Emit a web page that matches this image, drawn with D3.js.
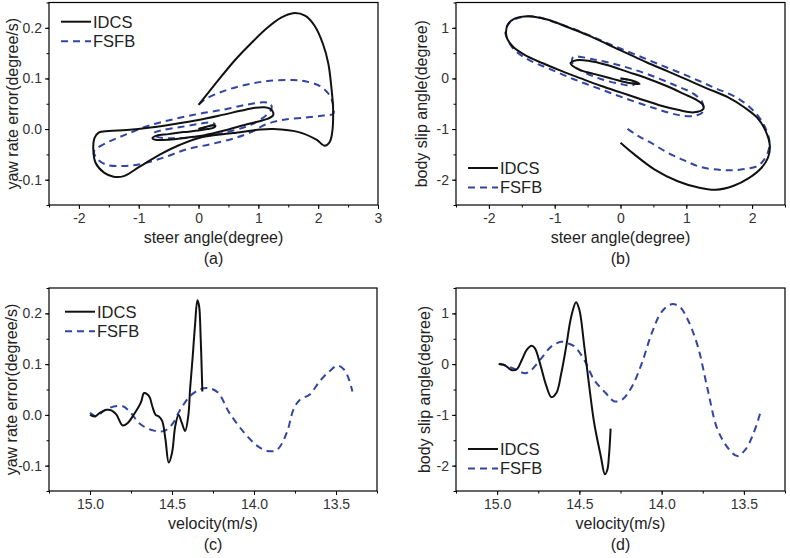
<!DOCTYPE html>
<html><head><meta charset="utf-8">
<script src="https://cdn.jsdelivr.net/npm/d3@7"></script>
<style>body{margin:0;background:#fff}svg{display:block}text{font-family:"Liberation Sans",Arial,sans-serif}</style>
</head><body><svg id="c" width="790" height="558"></svg>
<script>
// ---------------- data ----------------
const seriesNames = ["IDCS", "FSFB"];
const steerTicksA = [-2, -1, 0, 1, 2, 3];
const steerTicksB = [-2, -1, 0, 1, 2];
const yawTicks = [-0.1, 0.0, 0.1, 0.2];
const slipTicks = [-2, -1, 0, 1];
const velTicks = [15.0, 14.5, 14.0, 13.5];

// (a) steer angle vs yaw rate error  [steer, yaw]
const aIDCS = [[0,0],[0.12,0.004],[0.22,0.007],[0.28,0.007],[0.26,0.003],[0.15,0],[0,-0.003],[-0.25,-0.006],[-0.5,-0.01],[-0.7,-0.013],[-0.77,-0.018],[-0.72,-0.021],[-0.5,-0.021],[-0.2,-0.017],[0.1,-0.012],[0.4,-0.004],[0.7,0.006],[1.0,0.015],[1.15,0.02],[1.24,0.026],[1.25,0.032],[1.2,0.04],[1.1,0.043],[0.95,0.042],[0.7,0.036],[0.4,0.028],[0,0.018],[-0.4,0.01],[-0.8,0.003],[-1.2,-0.002],[-1.5,-0.004],[-1.67,-0.007],[-1.74,-0.018],[-1.76,-0.04],[-1.72,-0.067],[-1.58,-0.086],[-1.42,-0.094],[-1.25,-0.093],[-0.97,-0.073],[-0.64,-0.05],[-0.31,-0.031],[0.05,-0.016],[0.58,-0.008],[1.03,-0.001],[1.25,0],[1.69,-0.0065],[1.97,-0.021],[2.11,-0.033],[2.19,-0.026],[2.23,-0.01],[2.25,0.038],[2.22,0.083],[2.17,0.129],[2.08,0.168],[1.94,0.204],[1.78,0.224],[1.58,0.229],[1.38,0.22],[1.15,0.2],[0.9,0.172],[0.6,0.135],[0.3,0.092],[0,0.048]];
const aFSFB = [[0,0],[0.15,0.005],[0.27,0.01],[0.22,0.013],[0,0.01],[-0.3,0.004],[-0.6,-0.002],[-0.75,-0.008],[-0.7,-0.015],[-0.4,-0.018],[0,-0.015],[0.4,-0.008],[0.8,0.005],[1.05,0.02],[1.22,0.04],[1.2,0.05],[1.1,0.053],[0.8,0.048],[0.4,0.038],[0,0.03],[-0.4,0.02],[-0.8,0.008],[-1.2,-0.01],[-1.5,-0.025],[-1.7,-0.038],[-1.75,-0.045],[-1.7,-0.058],[-1.55,-0.07],[-1.3,-0.073],[-1.0,-0.07],[-0.6,-0.057],[-0.2,-0.04],[0.2,-0.03],[0.6,-0.018],[0.9,-0.005],[1.1,0.008],[1.4,0.018],[1.8,0.023],[2.1,0.027],[2.25,0.03],[2.25,0.048],[2.19,0.067],[2.03,0.085],[1.8,0.094],[1.58,0.097],[1.1,0.094],[0.7,0.085],[0.35,0.072],[0.1,0.058],[0.02,0.05]];

// (b) steer angle vs body slip angle  [steer, slip]
const bIDCS = [[0,0],[0.11,-0.02],[0.22,-0.06],[0.29,-0.11],[0.11,-0.085],[-0.14,0],[-0.39,0.085],[-0.6,0.16],[-0.72,0.24],[-0.76,0.3],[-0.67,0.36],[-0.49,0.35],[-0.19,0.26],[0.11,0.13],[0.41,0],[0.72,-0.16],[0.97,-0.31],[1.15,-0.42],[1.25,-0.52],[1.26,-0.6],[1.12,-0.67],[0.87,-0.62],[0.62,-0.54],[0.31,-0.41],[0.01,-0.28],[-0.29,-0.15],[-0.6,0],[-0.9,0.15],[-1.2,0.31],[-1.45,0.46],[-1.63,0.62],[-1.72,0.78],[-1.74,0.92],[-1.71,1.07],[-1.61,1.18],[-1.4,1.23],[-1.1,1.16],[-0.8,1.01],[-0.49,0.85],[-0.19,0.67],[0.11,0.49],[0.41,0.31],[0.72,0.14],[1.02,-0.03],[1.32,-0.2],[1.63,-0.37],[1.88,-0.57],[2.08,-0.78],[2.21,-1.05],[2.27,-1.34],[2.24,-1.57],[2.14,-1.77],[1.95,-1.97],[1.72,-2.12],[1.45,-2.2],[1.17,-2.15],[0.87,-2.03],[0.52,-1.8],[0.21,-1.5],[0,-1.27]];
const bFSFB = [[0,0],[0.12,-0.03],[0.22,-0.09],[0.18,-0.14],[0,-0.11],[-0.3,-0.01],[-0.55,0.12],[-0.72,0.27],[-0.72,0.42],[-0.39,0.37],[0.01,0.25],[0.41,0.085],[0.82,-0.13],[1.12,-0.31],[1.25,-0.49],[1.25,-0.66],[1.12,-0.74],[0.87,-0.72],[0.52,-0.59],[0.11,-0.41],[-0.29,-0.22],[-0.7,-0.02],[-1.1,0.2],[-1.4,0.37],[-1.61,0.56],[-1.71,0.75],[-1.75,0.92],[-1.68,1.11],[-1.51,1.21],[-1.3,1.22],[-1.0,1.11],[-0.6,0.92],[-0.19,0.69],[0.21,0.48],[0.62,0.26],[1.02,0.05],[1.42,-0.18],[1.78,-0.39],[2.03,-0.65],[2.18,-0.92],[2.26,-1.21],[2.25,-1.42],[2.18,-1.61],[2.08,-1.73],[1.83,-1.8],[1.55,-1.81],[1.22,-1.75],[0.97,-1.62],[0.72,-1.47],[0.46,-1.27],[0.26,-1.13],[0.09,-0.98]];

// (c) velocity vs yaw rate error  [velocity, yaw]
const cIDCS = [[15.0,0],[14.97,-0.003],[14.94,0.004],[14.9,0.01],[14.87,0.009],[14.84,0.001],[14.8,-0.021],[14.77,-0.016],[14.74,-0.003],[14.69,0.024],[14.67,0.043],[14.64,0.037],[14.62,0.017],[14.6,0.0],[14.58,-0.003],[14.56,-0.012],[14.54,-0.048],[14.52,-0.094],[14.5,-0.075],[14.48,-0.022],[14.46,0.0],[14.44,-0.016],[14.42,-0.032],[14.4,0.0],[14.39,0.05],[14.375,0.11],[14.36,0.175],[14.345,0.226],[14.335,0.215],[14.325,0.15],[14.318,0.08],[14.315,0.046]];
const cFSFB = [[15.0,0.004],[14.96,-0.003],[14.92,0.007],[14.88,0.014],[14.8,0.017],[14.76,0.007],[14.69,-0.019],[14.61,-0.031],[14.55,-0.032],[14.5,-0.019],[14.45,0.01],[14.39,0.037],[14.33,0.05],[14.28,0.053],[14.22,0.044],[14.15,0.004],[14.06,-0.035],[13.98,-0.061],[13.92,-0.071],[13.86,-0.069],[13.8,-0.035],[13.76,0.01],[13.72,0.03],[13.66,0.04],[13.6,0.066],[13.54,0.086],[13.49,0.097],[13.45,0.089],[13.42,0.069],[13.4,0.046]];

// (d) velocity vs body slip angle  [velocity, slip]
const dIDCS = [[14.99,0],[14.96,-0.01],[14.93,-0.08],[14.91,-0.12],[14.88,-0.1],[14.85,0.08],[14.82,0.28],[14.79,0.36],[14.77,0.31],[14.74,0.02],[14.7,-0.44],[14.67,-0.65],[14.64,-0.57],[14.61,-0.18],[14.58,0.35],[14.55,0.93],[14.52,1.22],[14.5,1.07],[14.47,0.35],[14.44,-0.44],[14.41,-1.16],[14.37,-1.81],[14.345,-2.17],[14.33,-2.08],[14.32,-1.8],[14.31,-1.27]];
const dFSFB = [[14.99,0],[14.95,-0.03],[14.89,-0.1],[14.83,-0.18],[14.79,-0.11],[14.73,0.12],[14.67,0.35],[14.61,0.44],[14.57,0.41],[14.53,0.35],[14.47,0.08],[14.41,-0.31],[14.34,-0.57],[14.29,-0.73],[14.24,-0.7],[14.18,-0.44],[14.12,0.02],[14.06,0.61],[14.0,1.03],[13.94,1.18],[13.89,1.13],[13.84,0.87],[13.78,0.35],[13.72,-0.5],[13.66,-1.29],[13.59,-1.68],[13.54,-1.81],[13.49,-1.68],[13.44,-1.35],[13.4,-0.96]];

// ---------------- drawing ----------------
const svg = d3.select("#c");
const colors = {IDCS: "#111111", FSFB: "#3245a0"};

function panel(o) {
  const x = d3.scaleLinear().domain(o.xd).range([o.l, o.r]);
  const y = d3.scaleLinear().domain(o.yd).range([o.b, o.t]);
  const g = svg.append("g");
  g.append("g").attr("transform", `translate(0,${o.b})`)
    .call(d3.axisBottom(x).tickValues(o.xMinor).tickSize(2.5).tickFormat(""))
    .call(a => a.select(".domain").remove());
  g.append("g").attr("transform", `translate(${o.l},0)`)
    .call(d3.axisLeft(y).tickValues(o.yMinor).tickSize(2.5).tickFormat(""))
    .call(a => a.select(".domain").remove());
  const xa = g.append("g").attr("transform", `translate(0,${o.b})`)
    .call(d3.axisBottom(x).tickValues(o.xt).tickSize(4).tickPadding(4).tickFormat(o.xf));
  const ya = g.append("g").attr("transform", `translate(${o.l},0)`)
    .call(d3.axisLeft(y).tickValues(o.yt).tickSize(4).tickPadding(3).tickFormat(o.yf));
  [xa, ya].forEach(a => {
    a.selectAll("text").attr("font-size", 14).attr("fill", "#333").attr("font-family", '"Liberation Sans",Arial,sans-serif');
    a.select(".domain").remove();
  });
  g.selectAll(".tick line").attr("stroke", "#000");
  g.append("rect").attr("x", o.l).attr("y", o.t).attr("width", o.r - o.l).attr("height", o.b - o.t)
    .attr("fill", "none").attr("stroke", "#000").attr("stroke-width", 1.2);

  const line = d3.line().x(d => x(d[0])).y(d => y(d[1])).curve(d3.curveCatmullRom.alpha(0.5));
  g.append("path").datum(o.s2).attr("d", line).attr("fill", "none")
    .attr("stroke", colors.FSFB).attr("stroke-width", 2).attr("stroke-dasharray", "7,5");
  g.append("path").datum(o.s1).attr("d", line).attr("fill", "none")
    .attr("stroke", colors.IDCS).attr("stroke-width", 2);

  seriesNames.forEach((nm, i) => {
    const ly = o.ly + i * 19.5;
    g.append("line").attr("x1", o.lx).attr("x2", o.lx + 30).attr("y1", ly).attr("y2", ly)
      .attr("stroke", colors[nm]).attr("stroke-width", 2)
      .attr("stroke-dasharray", nm === "FSFB" ? "7,5" : null);
    g.append("text").attr("x", o.lx + 32).attr("y", ly).attr("dy", "0.36em")
      .attr("font-size", 16.5).attr("fill", "#222").text(nm);
  });
  g.append("text").attr("x", (o.l + o.r) / 2).attr("y", o.b + 38).attr("text-anchor", "middle")
    .attr("font-size", 16).attr("fill", "#222").text(o.xTitle);
  g.append("text").attr("x", (o.l + o.r) / 2).attr("y", o.b + 59).attr("text-anchor", "middle")
    .attr("font-size", 16).attr("fill", "#222").text(o.tag);
  g.append("text").attr("transform", `translate(${o.yx},${(o.t + o.b) / 2}) rotate(-90)`)
    .attr("text-anchor", "middle").attr("dy", "0.36em")
    .attr("font-size", 16).attr("fill", "#222").text(o.yTitle);
}

const fmt1 = d3.format(".1f");
const fmtY = d => fmt1(d).replace("−", "-");
const fmtX = d => String(d).replace("−", "-");

panel({l: 49, r: 378, t: 2.5, b: 205, xd: [-2.5, 3], yd: [-0.15, 0.25],
  xt: steerTicksA, yt: yawTicks, xMinor: d3.range(-2.5, 3.01, 0.5), yMinor: d3.range(-0.15, 0.251, 0.05),
  xf: fmtX, yf: fmtY, s1: aIDCS, s2: aFSFB, lx: 61, ly: 21.7,
  xTitle: "steer angle(degree)", yTitle: "yaw rate error(degree/s)", tag: "(a)", yx: 12});
panel({l: 456, r: 785, t: 2.5, b: 205, xd: [-2.5, 2.5], yd: [-2.5, 1.5],
  xt: steerTicksB, yt: slipTicks, xMinor: d3.range(-2.5, 2.51, 0.5), yMinor: d3.range(-2.5, 1.51, 0.5),
  xf: fmtX, yf: fmtX, s1: bIDCS, s2: bFSFB, lx: 468, ly: 168,
  xTitle: "steer angle(degree)", yTitle: "body slip angle(degree)", tag: "(b)", yx: 421});
panel({l: 49, r: 377, t: 288, b: 491, xd: [15.25, 13.25], yd: [-0.15, 0.25],
  xt: velTicks, yt: yawTicks, xMinor: d3.range(13.25, 15.251, 0.25), yMinor: d3.range(-0.15, 0.251, 0.05),
  xf: fmtY, yf: fmtY, s1: cIDCS, s2: cFSFB, lx: 65, ly: 311.7,
  xTitle: "velocity(m/s)", yTitle: "yaw rate error(degree/s)", tag: "(c)", yx: 11});
panel({l: 456, r: 785, t: 288, b: 491, xd: [15.25, 13.25], yd: [-2.5, 1.5],
  xt: velTicks, yt: slipTicks, xMinor: d3.range(13.25, 15.251, 0.25), yMinor: d3.range(-2.5, 1.51, 0.5),
  xf: fmtY, yf: fmtX, s1: dIDCS, s2: dFSFB, lx: 468, ly: 449,
  xTitle: "velocity(m/s)", yTitle: "body slip angle(degree)", tag: "(d)", yx: 424});
</script></body></html>
